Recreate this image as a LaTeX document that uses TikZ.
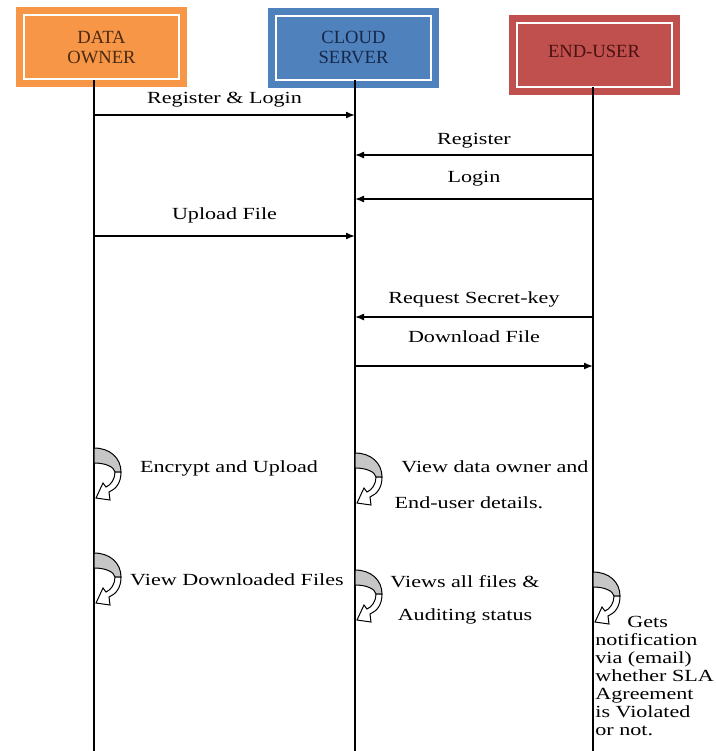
\documentclass[tikz,border=0pt]{standalone}
\usepackage{fontspec}
\setmainfont{Liberation Serif}
\newfontfamily\widefont{Liberation Serif}[FakeStretch=1.3]
\usepackage{tikz}
\usetikzlibrary{positioning}
\usetikzlibrary{calc,arrows.meta}
\definecolor{sd-owner}{HTML}{F79646}
\definecolor{sd-cloud}{HTML}{4F81BD}
\definecolor{sd-user}{HTML}{C0504D}
\definecolor{sd-owner-text}{HTML}{4A2A12}
\definecolor{sd-cloud-text}{HTML}{16284A}
\definecolor{sd-user-text}{HTML}{4A1212}
\tikzset{actor/.style={draw=#1, fill=#1, double=white, double distance=1pt, line width=3.5pt, minimum width=77.5pt, minimum height=32pt, inner sep=0pt, align=center, font=\fontsize{9.3}{10}\selectfont}}
\tikzset{selfloop/.pic={
    \draw[fill=gray!45, line width=0.5pt] (0,0) .. controls (16,0) and (27,10) .. (27,24) -- (21,24) .. controls (20,19) and (12,15) .. (0,15) -- cycle;
    \draw[fill=white, line width=0.5pt] (27,24) .. controls (27,35) and (22,41) .. (15,44) -- (16,52) -- (2,50) -- (9,35) -- (12,39) .. controls (17,37) and (21,31) .. (21,24) -- cycle;
}}

\begin{document}
\begin{tikzpicture}[
    x=0.5pt, y=-0.5pt,
    font=\widefont\fontsize{8.5}{9}\selectfont,
    >={Latex[length=4.5pt,width=3.5pt]}
  ]
  \useasboundingbox (0,0) rectangle (716,751);

  % Styles for lifelines and messages
  \tikzset{
    life/.style={draw, line width=0.7pt},
    msg/.style={->, line width=0.7pt},
    note/.style={anchor=base, inner sep=0pt}
  }

  % Heads
  \node (owner) [actor=sd-owner, text=sd-owner-text] at (101.5,47) {DATA\\OWNER};
  \node (cloud) [actor=sd-cloud, text=sd-cloud-text] at (353.5,47.5) {CLOUD\\SERVER};
  \node (enduser) [actor=sd-user, text=sd-user-text] at (594,54.5) {\raisebox{3.5pt}{END-USER}};

  % Lifelines
  \coordinate (ownerT) at (94,80);
  \coordinate (ownerB) at (94,751);
  \coordinate (cloudT) at (355,80);
  \coordinate (cloudB) at (355,751);
  \coordinate (userT) at (593,87);
  \coordinate (userB) at (593,751);
  \draw[life] (ownerT) -- (ownerB);
  \draw[life] (cloudT) -- (cloudB);
  \draw[life] (userT) -- (userB);

  % Messages
  \foreach \a/\b/\yy/\dy/\txt in {
      ownerT/cloudT/115/6/{Register \& Login},
      userT/cloudT/155/5.5/{Register},
      userT/cloudT/199/8.5/{Login},
      ownerT/cloudT/236/8.5/{Upload File},
      userT/cloudT/317/7/{Request Secret-key},
      cloudT/userT/366/12/{Download File}}
    \draw[msg] (\a |- 0,\yy) -- (\b |- 0,\yy) node[midway, anchor=base, yshift=\dy pt] {\txt};

  % Self calls
  \pic at (94,448) {selfloop};
  \pic at (94,553) {selfloop};
  \pic at (355,453) {selfloop};
  \pic at (355,570) {selfloop};
  \pic at (593,572) {selfloop};

  \node (enc) [note] at (229,472) {Encrypt and Upload};
  \node (viewdl) [note] at (237,585) {View Downloaded Files};
  \node (viewdo) [note] at (495,472) {View data owner and};
  \node (viewdo2) [note] at (469,508) {End-user details.};
  \node (viewall) [note] at (465,587) {Views all files \&};
  \node (viewall2) [note] at (465,620) {Auditing status};
  \node (sla) [anchor=north west, inner sep=0pt, align=left] at (595,616)
    {\hspace*{16pt}Gets\\notification\\via (email)\\whether SLA\\Agreement\\is Violated\\or not.};

\end{tikzpicture}
\end{document}
